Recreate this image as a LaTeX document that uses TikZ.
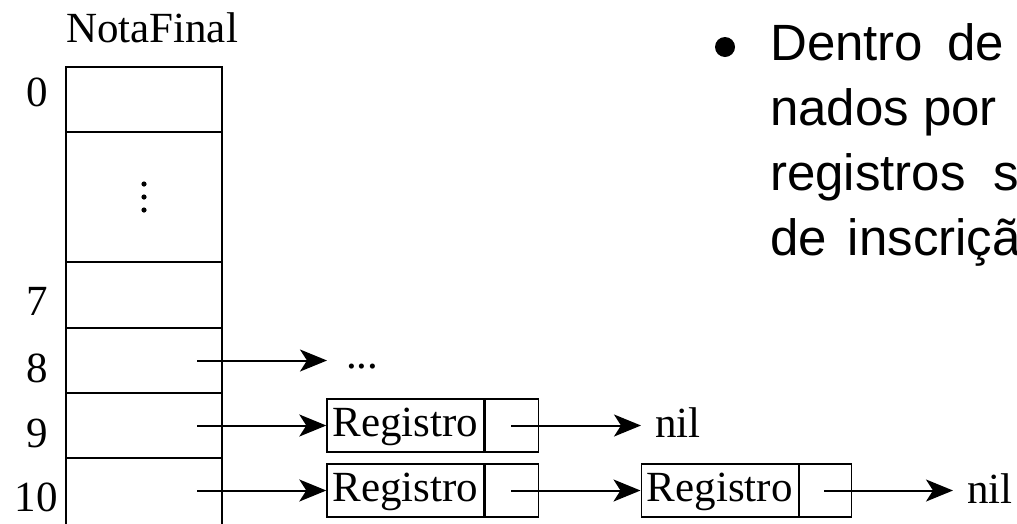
\documentclass[tikz,border=0pt]{standalone}
\usepackage{fontspec}
\setmainfont{Liberation Serif}
\newfontfamily\arialfont{Liberation Sans}
\usetikzlibrary{arrows.meta}
\tikzset{
  cellbox/.style={draw, line width=1.8pt, minimum width=156pt, inner sep=0pt},
  recbox/.style={draw, line width=1.4pt, minimum height=53pt, inner sep=0pt,
    font=\fontsize{43}{50}\selectfont, text height=29pt, text depth=8pt},
  lbl/.style={font=\fontsize{43}{50}\selectfont, inner sep=0pt},
  bodytxt/.style={font=\arialfont\fontsize{51}{60}\selectfont, inner sep=0pt, anchor=base west},
  ptr/.style={line width=2pt, -{Stealth[length=27pt, width=22pt, inset=7pt]}}
}
\begin{document}
\begin{tikzpicture}[x=1pt, y=-1pt]
\useasboundingbox (0,0) rectangle (1017,523);
\clip (0,0) rectangle (1017,523);
% array title
\node[lbl, anchor=base] (title) at (152,42) {NotaFinal};
% array cells
\node[cellbox, minimum height=65pt]  (c0)  at (144,99.5) {};
\node[cellbox, minimum height=130pt] (cd)  at (144,197) {};
\node[cellbox, minimum height=66pt]  (c7)  at (144,295) {};
\node[cellbox, minimum height=65pt]  (c8)  at (144,360.5) {};
\node[cellbox, minimum height=65pt]  (c9)  at (144,425.5) {};
\node[cellbox, minimum height=90pt]  (c10) at (144,503) {};
% vertical dots
\fill (144,184) circle (2.6pt) (144,197) circle (2.6pt) (144,210) circle (2.6pt);
% index labels
\node[lbl, anchor=base] (i0)  at (37,106) {0};
\node[lbl, anchor=base] (i7)  at (37,315) {7};
\node[lbl, anchor=base] (i8)  at (37,382) {8};
\node[lbl, anchor=base] (i9)  at (37,447) {9};
\node[lbl, anchor=base] (i10) at (36,511) {10};
% pointer origins
\coordinate (p8)  at (197,360.5);
\coordinate (p9)  at (197,425.5);
\coordinate (p10) at (197,490.5);
% row 8
\node[lbl, anchor=base west, inner xsep=19pt] (d8) at (327,368) {...};
\draw[ptr] (p8) -- (p8 -| d8.west);
% row 9
\node[recbox, minimum width=157pt] (r9a) at (405.5,425.5) {Registro};
\node[recbox, minimum width=53pt, anchor=west] (r9b) at (r9a.east) {};
\coordinate (q9) at (511,425.5);
\node[lbl, anchor=base west, inner xsep=14pt] (n9) at (641,437) {nil};
\draw[ptr] (p9) -- (r9a.west);
\draw[ptr] (q9) -- (q9 -| n9.west);
% row 10
\node[recbox, minimum width=157pt] (r10a) at (405.5,490.5) {Registro};
\node[recbox, minimum width=53pt, anchor=west] (r10b) at (r10a.east) {};
\node[recbox, minimum width=157pt, anchor=west] (r10c) at (640.5,490.5) {Registro};
\node[recbox, minimum width=52pt, anchor=west] (r10d) at (r10c.east) {};
\coordinate (q10a) at (511,490.5);
\coordinate (q10b) at (824,490.5);
\node[lbl, anchor=base west, inner xsep=14pt] (n10) at (953,503) {nil};
\draw[ptr] (p10) -- (r10a.west);
\draw[ptr] (q10a) -- (r10c.west);
\draw[ptr] (q10b) -- (q10b -| n10.west);
% bullet text
\fill (725,47) circle (10pt);
\node[bodytxt] (t1) at (770,60)  {Dentro\hspace{24pt}de};
\node[bodytxt] (t2) at (770,125) {nados por};
\node[bodytxt] (t3) at (770,190) {registros\hspace{28pt}s};
\node[bodytxt] (t4) at (770,255) {de\hspace{21pt}inscriçã};
\end{tikzpicture}
\end{document}
